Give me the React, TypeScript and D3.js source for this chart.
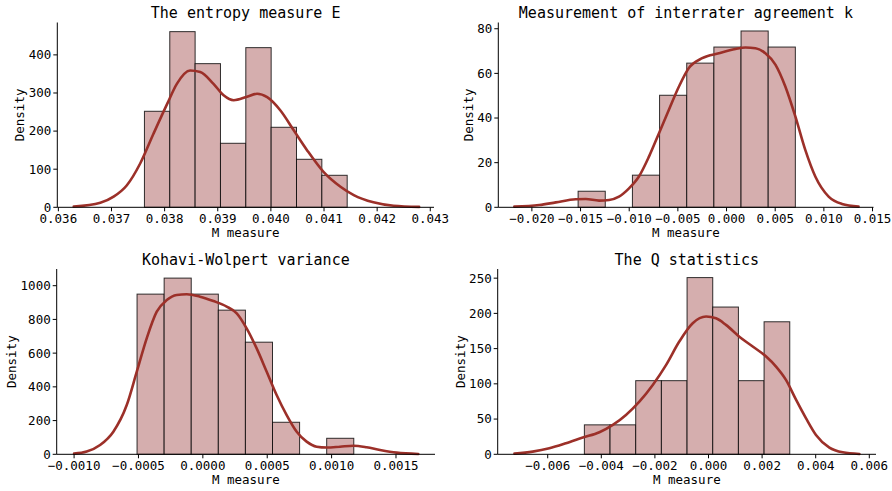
import * as d3 from "d3";

// figure is 892x491, four histogram + kde panels
const WIDTH = 892;
const HEIGHT = 491;
const FONT = "DejaVu Sans Mono";
const BAR_FILL = "#d5aeae";
const KDE_COLOR = "#9c3029";

// --- panel 1: entropy measure E
const titleE = "The entropy measure E";
const binStartE = 0.03762;
const binWidthE = 0.000477;
const densityE = [252, 461, 377, 168, 419, 210, 126, 84];
const kdeXE = [0.03629, 0.03679, 0.03704, 0.03729, 0.03754, 0.03779, 0.03805, 0.03823, 0.03848, 0.03867, 0.03892, 0.03911, 0.0393, 0.03955, 0.03974, 0.03993, 0.04018, 0.04043, 0.04068, 0.04099, 0.04131, 0.04156, 0.04193, 0.04231, 0.04279];
const kdeYE = [2, 12, 28, 58, 115, 193, 272, 324, 359, 355, 324, 294, 281, 290, 298, 289, 254, 202, 150, 93, 54, 32, 13, 4, 1];
const xTicksE = [0.036, 0.037, 0.038, 0.039, 0.04, 0.041, 0.042, 0.043];
const yTicksE = [0, 100, 200, 300, 400];

// --- panel 2: interrater agreement k
const titleK = "Measurement of interrater agreement k";
const binStartK = -0.01525;
const binWidthK = 0.00279;
const densityK = [7.2, 0, 14.4, 50.2, 64.6, 71.8, 79, 71.8];
const kdeXK = [-0.0218, -0.01925, -0.01754, -0.01549, -0.01446, -0.0131, -0.01207, -0.01105, -0.01002, -0.009, -0.00797, -0.00694, -0.00592, -0.0049, -0.00387, -0.0025, -0.00079, 0.00092, 0.00194, 0.00297, 0.00399, 0.00502, 0.00604, 0.00707, 0.00809, 0.00912, 0.01049, 0.01186, 0.01356];
const kdeYK = [0.3, 1, 2.2, 3.6, 3.7, 3, 3.3, 4.8, 8.5, 13.8, 22.7, 33.2, 43.7, 54, 62.4, 66.8, 69, 70.9, 71.6, 71.3, 69, 63.9, 54.1, 40.7, 25.7, 13.8, 4.8, 1.5, 0.3];
const xTicksK = [-0.02, -0.015, -0.01, -0.005, 0, 0.005, 0.01, 0.015];
const yTicksK = [0, 20, 40, 60, 80];

// --- panel 3: Kohavi-Wolpert variance
const titleKW = "Kohavi-Wolpert variance";
const binStartKW = -0.000511;
const binWidthKW = 0.0002104;
const densityKW = [950, 1045, 950, 855, 665, 190, 0, 95];
const kdeXKW = [-0.001, -0.000902, -0.000798, -0.000695, -0.000591, -0.000513, -0.000436, -0.000358, -0.00028, -0.000203, -0.000125, -0.000022, 0.000082, 0.000185, 0.000263, 0.00034, 0.000418, 0.000496, 0.000573, 0.000651, 0.000729, 0.000806, 0.000884, 0.000962, 0.001065, 0.001169, 0.001272, 0.001376, 0.001505, 0.001673];
const kdeYKW = [4, 16, 55, 134, 292, 490, 688, 846, 915, 945, 949, 935, 909, 876, 836, 747, 628, 490, 352, 233, 134, 75, 45, 40, 45, 51, 42, 26, 10, 2];
const xTicksKW = [-0.001, -0.0005, 0, 0.0005, 0.001, 0.0015];
const yTicksKW = [0, 200, 400, 600, 800, 1000];

// --- panel 4: Q statistics
const titleQ = "The Q statistics";
const binStartQ = -0.004632;
const binWidthQ = 0.000958;
const densityQ = [41.8, 41.8, 104.5, 104.5, 250.8, 209, 104.5, 188.1];
const kdeXQ = [-0.00724, -0.00656, -0.00594, -0.00532, -0.00469, -0.00407, -0.00357, -0.00308, -0.00258, -0.00208, -0.00158, -0.00109, -0.00059, -0.00009, 0.00028, 0.00065, 0.00115, 0.00165, 0.00215, 0.00252, 0.00289, 0.00327, 0.00364, 0.00401, 0.00451, 0.00501, 0.00563];
const kdeYQ = [1, 3.8, 8.5, 15.6, 23.7, 31.3, 41.7, 55.9, 74.8, 98.5, 126.9, 160, 186, 195.5, 193, 183.7, 167, 153, 138.7, 124.5, 105.6, 77.2, 51, 27.5, 9.5, 2.8, 0.5];
const xTicksQ = [-0.006, -0.004, -0.002, 0, 0.002, 0.004, 0.006];
const yTicksQ = [0, 50, 100, 150, 200, 250];

type PanelProps = {
  title: string;
  binStart: number;
  binWidth: number;
  density: number[];
  kdeX: number[];
  kdeY: number[];
  xTicks: number[];
  yTicks: number[];
  xDomain: [number, number];
  yMax: number;
  xFmt: string;
  box: { left: number; right: number; top: number; bottom: number };
  yLabelX: number;
};

const minus = (s: string) => s.replace("-", "\u2212");

const Panel = (p: PanelProps) => {
  const { left, right, top, bottom } = p.box;
  const x = d3.scaleLinear().domain(p.xDomain).range([left, right]);
  const y = d3.scaleLinear().domain([0, p.yMax]).range([bottom, top]);
  const fmt = d3.format(p.xFmt);

  const line = d3
    .line<number>()
    .x((d, i) => x(p.kdeX[i]))
    .y((d) => y(d))
    .curve(d3.curveMonotoneX);

  return (
    <g>
      {p.density.map((h, i) => {
        if (h <= 0) return null;
        const x0 = x(p.binStart + i * p.binWidth);
        const x1 = x(p.binStart + (i + 1) * p.binWidth);
        return (
          <rect
            key={i}
            x={x0}
            y={y(h)}
            width={x1 - x0}
            height={y(0) - y(h)}
            fill={BAR_FILL}
            stroke="rgba(0,0,0,0.8)"
            strokeWidth={1}
          />
        );
      })}
      <path d={line(p.kdeY) || ""} fill="none" stroke={KDE_COLOR} strokeWidth={2.6} strokeLinecap="round" />

      {/* spines (despined: left + bottom only) */}
      <line x1={left} x2={left} y1={top} y2={bottom} stroke="#000" strokeWidth={1} />
      <line x1={left} x2={right} y1={bottom} y2={bottom} stroke="#000" strokeWidth={1} />

      {p.xTicks.map((t) => (
        <g key={"x" + t}>
          <line x1={x(t)} x2={x(t)} y1={bottom} y2={bottom + 4} stroke="#000" />
          <text x={x(t)} y={bottom + 15.5} textAnchor="middle" fontSize={12.5}>
            {minus(fmt(t))}
          </text>
        </g>
      ))}
      {p.yTicks.map((t) => (
        <g key={"y" + t}>
          <line x1={left - 4} x2={left} y1={y(t)} y2={y(t)} stroke="#000" />
          <text x={left - 6} y={y(t)} dy="0.35em" textAnchor="end" fontSize={12.5}>
            {t}
          </text>
        </g>
      ))}

      <text x={(left + right) / 2} y={top - 4.5} textAnchor="middle" fontSize={15}>
        {p.title}
      </text>
      <text x={(left + right) / 2} y={bottom + 30} textAnchor="middle" fontSize={12.5}>
        M measure
      </text>
      <text
        transform={`translate(${p.yLabelX},${(top + bottom) / 2}) rotate(-90)`}
        textAnchor="middle"
        dy="0.35em"
        fontSize={12.5}
      >
        Density
      </text>
    </g>
  );
};

export default function App() {
  return (
    <svg
      width={WIDTH}
      height={HEIGHT}
      style={{ position: "absolute", left: 0, top: 0, background: "#fff" }}
      fontFamily={FONT}
    >
      <Panel
        title={titleE}
        binStart={binStartE}
        binWidth={binWidthE}
        density={densityE}
        kdeX={kdeXE}
        kdeY={kdeYE}
        xTicks={xTicksE}
        yTicks={yTicksE}
        xDomain={[0.03598, 0.04307]}
        yMax={485}
        xFmt=".3f"
        box={{ left: 57.3, right: 434, top: 22.5, bottom: 207.3 }}
        yLabelX={20}
      />
      <Panel
        title={titleK}
        binStart={binStartK}
        binWidth={binWidthK}
        density={densityK}
        kdeX={kdeXK}
        kdeY={kdeYK}
        xTicks={xTicksK}
        yTicks={yTicksK}
        xDomain={[-0.02345, 0.0151]}
        yMax={82.8}
        xFmt=".3f"
        box={{ left: 498.3, right: 873.5, top: 22.5, bottom: 207.3 }}
        yLabelX={468.5}
      />
      <Panel
        title={titleKW}
        binStart={binStartKW}
        binWidth={binWidthKW}
        density={densityKW}
        kdeX={kdeXKW}
        kdeY={kdeYKW}
        xTicks={xTicksKW}
        yTicks={yTicksKW}
        xDomain={[-0.001135, 0.001803]}
        yMax={1099}
        xFmt=".4f"
        box={{ left: 56.7, right: 435, top: 269, bottom: 454.3 }}
        yLabelX={12}
      />
      <Panel
        title={titleQ}
        binStart={binStartQ}
        binWidth={binWidthQ}
        density={densityQ}
        kdeX={kdeXQ}
        kdeY={kdeYQ}
        xTicks={xTicksQ}
        yTicks={yTicksQ}
        xDomain={[-0.007866, 0.00625]}
        yMax={263}
        xFmt=".3f"
        box={{ left: 497.7, right: 876, top: 269, bottom: 454.3 }}
        yLabelX={461}
      />
    </svg>
  );
}
